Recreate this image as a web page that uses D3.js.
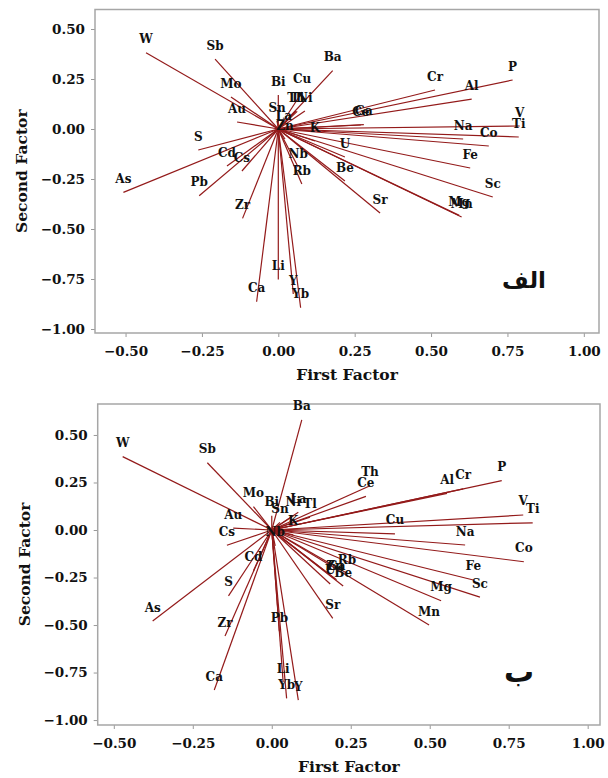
<!DOCTYPE html>
<html>
<head>
<meta charset="utf-8">
<script src="https://cdn.jsdelivr.net/npm/d3@7"></script>
<style>
  html, body { margin: 0; padding: 0; background: #fff; }
  svg { display: block; }
  .tick text { font-family: "DejaVu Serif", serif; font-weight: bold; font-size: 13.5px; fill: #111; }
  .tick line { stroke: #999; }
  .domain { display: none; }
  .elem { font-family: "DejaVu Serif", serif; font-weight: bold; font-size: 12px; fill: #111; }
  .title { font-family: "DejaVu Serif", serif; font-weight: bold; font-size: 15.5px; fill: #111; }
  .tag { font-family: "DejaVu Sans", sans-serif; font-weight: bold; fill: #111; }
</style>
</head>
<body>
<script>
// Factor loadings, panel "الف"
const elementsA = ["W","Sb","Ba","Mo","Bi","Cu","Th","Tl","Ni","Au","Sn","La","Zn","K","Ce","Ga","Cr","Al","P","V","Ti","Na","Co","Fe","Sc","Mg","Mn","U","Be","Sr","Nb","Rb","S","Cd","Cs","As","Pb","Zr","Ca","Li","Y","Yb"];
const firstA  = [-0.433,-0.207,0.178,-0.155,0.000,0.078,0.058,0.062,0.087,-0.135,-0.004,0.018,0.022,0.120,0.270,0.280,0.513,0.633,0.767,0.790,0.787,0.605,0.689,0.628,0.702,0.592,0.600,0.218,0.218,0.333,0.065,0.077,-0.262,-0.168,-0.119,-0.507,-0.259,-0.117,-0.071,0.000,0.049,0.073];
const secondA = [0.381,0.349,0.292,0.160,0.170,0.185,0.090,0.088,0.090,0.035,0.040,0.000,-0.050,-0.060,0.020,0.022,0.195,0.149,0.245,0.015,-0.040,-0.050,-0.085,-0.195,-0.340,-0.432,-0.440,-0.140,-0.260,-0.420,-0.190,-0.275,-0.105,-0.185,-0.210,-0.317,-0.334,-0.447,-0.864,-0.752,-0.825,-0.894];

// Factor loadings, panel "ب"
const elementsB = ["W","Sb","Ba","Mo","Au","Cs","Bi","Sn","Ni","La","Tl","K","Nb","Cd","Th","Ce","Al","Cr","P","V","Ti","Cu","Na","Co","Fe","Sc","Mg","Mn","Rb","Zn","Ga","U","Be","Sr","S","As","Zr","Ca","Pb","Li","Yb","Y"];
const firstB  = [-0.472,-0.204,0.095,-0.058,-0.122,-0.142,0.000,0.026,0.068,0.084,0.121,0.068,0.011,-0.058,0.311,0.298,0.555,0.606,0.728,0.796,0.826,0.390,0.612,0.798,0.638,0.659,0.536,0.498,0.238,0.200,0.205,0.185,0.226,0.193,-0.137,-0.377,-0.148,-0.182,0.024,0.036,0.047,0.084];
const secondB = [0.386,0.354,0.579,0.123,0.010,-0.080,0.075,0.040,0.075,0.094,0.068,-0.026,-0.083,-0.215,0.233,0.177,0.193,0.216,0.260,0.079,0.038,-0.020,-0.079,-0.167,-0.263,-0.353,-0.372,-0.500,-0.227,-0.258,-0.262,-0.284,-0.295,-0.465,-0.347,-0.479,-0.558,-0.842,-0.533,-0.800,-0.886,-0.895];

const xTicks = [-0.5,-0.25,0,0.25,0.5,0.75,1.0];
const yTicks = [0.5,0.25,0,-0.25,-0.5,-0.75,-1.0];
const xTitle = "First Factor";
const yTitle = "Second Factor";

const svg = d3.select("body").append("svg").attr("width", 608).attr("height", 778);
svg.append("rect").attr("width", 608).attr("height", 778).attr("fill", "#fff");

function panel(cfg) {
  const { names, fx, fy, left, right, top, bottom, xDom, yDom, tag, tagPos, tagSize } = cfg;
  const x = d3.scaleLinear().domain(xDom).range([left, right]);
  const y = d3.scaleLinear().domain(yDom).range([bottom, top]);
  const g = svg.append("g");

  g.append("g").attr("transform", `translate(0,${bottom})`)
    .call(d3.axisBottom(x).tickValues(xTicks).tickFormat(d3.format(".2f")).tickSize(4).tickPadding(6))
    .selectAll(".tick text").attr("dy", "0.95em");
  g.append("g").attr("transform", `translate(${left},0)`)
    .call(d3.axisLeft(y).tickValues(yTicks).tickFormat(d3.format(".2f")).tickSize(4).tickPadding(6));

  g.append("rect").attr("x", left).attr("y", top)
    .attr("width", right - left).attr("height", bottom - top)
    .attr("fill", "none").attr("stroke", "#a6a6a6").attr("stroke-width", 1.5);

  // loading vectors from the origin
  const data = names.map((n, i) => ({ n, a: fx[i], b: fy[i] }));
  g.append("g").selectAll("line").data(data).join("line")
    .attr("x1", x(0)).attr("y1", y(0))
    .attr("x2", d => x(d.a)).attr("y2", d => y(d.b))
    .attr("stroke", "#931a1a").attr("stroke-width", 1.2);

  g.append("g").selectAll("text").data(data).join("text")
    .attr("class", "elem")
    .attr("x", d => x(d.a)).attr("y", d => y(d.b) - 9.5)
    .attr("text-anchor", "middle")
    .text(d => d.n);

  g.append("text").attr("class", "title")
    .attr("x", (left + right) / 2).attr("y", bottom + 47)
    .attr("text-anchor", "middle").text(xTitle);
  g.append("text").attr("class", "title")
    .attr("transform", `translate(${left - 68},${(top + bottom) / 2}) rotate(-90)`)
    .attr("text-anchor", "middle").text(yTitle);

  g.append("text").attr("class", "tag")
    .attr("x", tagPos[0]).attr("y", tagPos[1])
    .style("font-size", tagSize + "px")
    .attr("text-anchor", "middle").attr("direction", "rtl").text(tag);
}

panel({ names: elementsA, fx: firstA, fy: secondA,
  left: 95, right: 599, top: 9.5, bottom: 333,
  xDom: [-0.600, 1.0497], yDom: [-1.02, 0.5975],
  tag: "الف", tagPos: [524, 288], tagSize: 23 });

panel({ names: elementsB, fx: firstB, fy: secondB,
  left: 97.7, right: 600, top: 404, bottom: 725,
  xDom: [-0.551, 1.039], yDom: [-1.026, 0.663],
  tag: "ب", tagPos: [519, 682], tagSize: 30 });
</script>
</body>
</html>
